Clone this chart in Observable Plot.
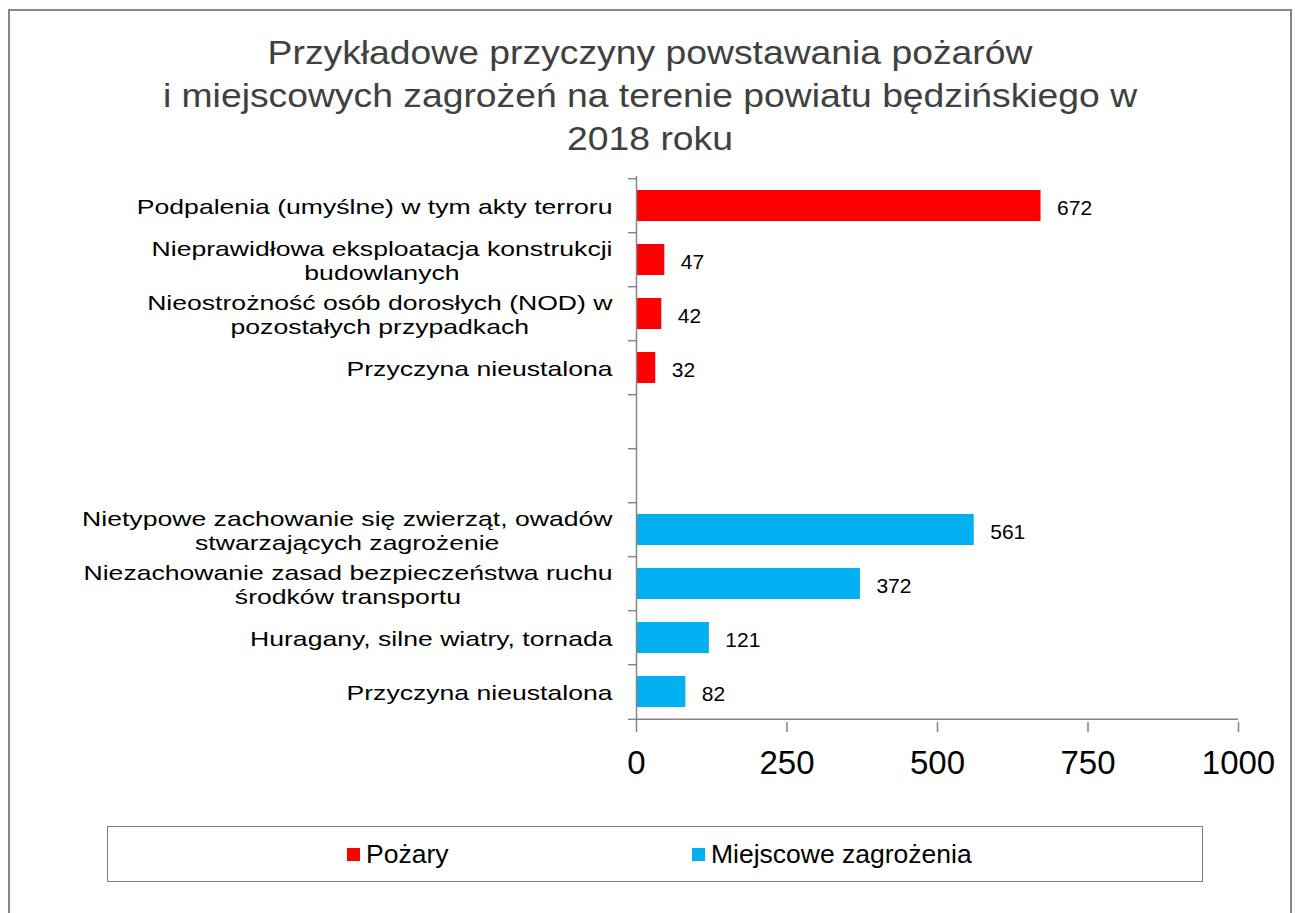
<!DOCTYPE html>
<html><head><meta charset="utf-8">
<script src="https://cdn.jsdelivr.net/npm/d3@7"></script>
<script src="https://cdn.jsdelivr.net/npm/@observablehq/plot@0.6"></script>
<style>
html,body{margin:0;padding:0;background:#fff;}
body{width:1295px;height:913px;position:relative;overflow:hidden;font-family:"Liberation Sans",Arial,sans-serif;}
#frame{position:absolute;left:8px;top:9px;width:1284px;height:1000px;border:2px solid #868686;box-sizing:border-box;}
#title{position:absolute;left:0;top:31px;width:1300px;text-align:center;font-size:33px;line-height:43px;color:#404040;transform:scaleX(1.13);transform-origin:650px 0;white-space:nowrap;}
#chart{position:absolute;left:0;top:160px;}
#legend{position:absolute;left:107px;top:826px;width:1096px;height:56px;border:1px solid #7f7f7f;box-sizing:border-box;}
#legend .lg-swatches{position:absolute;left:239px;top:0;height:54px;margin:0;display:flex;align-items:center;font-size:26.5px;font-family:"Liberation Sans",Arial,sans-serif;color:#000;}
#legend .lg-swatch{width:345px;margin-right:0;display:inline-flex;align-items:center;}
#legend .lg-swatch svg{margin-right:6px;}
</style>
</head><body>
<div id="frame"></div>
<div id="title">Przykładowe przyczyny powstawania pożarów<br>i miejscowych zagrożeń na terenie powiatu będzińskiego w<br>2018 roku</div>
<div id="chart"></div>
<div id="legend"></div>
<script>
const categories = [
  "Podpalenia (umyślne) w tym akty terroru",
  "Nieprawidłowa eksploatacja konstrukcji\nbudowlanych",
  "Nieostrożność osób dorosłych (NOD) w\npozostałych przypadkach",
  "Przyczyna nieustalona",
  "",
  "",
  "Nietypowe zachowanie się zwierząt, owadów\nstwarzających zagrożenie",
  "Niezachowanie zasad bezpieczeństwa ruchu\nśrodków transportu",
  "Huragany, silne wiatry, tornada",
  "Przyczyna nieustalona"
];
const groups = ["Pożary","Pożary","Pożary","Pożary",null,null,
  "Miejscowe zagrożenia","Miejscowe zagrożenia","Miejscowe zagrożenia","Miejscowe zagrożenia"];
const values = [672, 47, 42, 32, null, null, 561, 372, 121, 82];
const seriesNames = ["Pożary", "Miejscowe zagrożenia"];
const seriesColors = ["#FF0000", "#00B0F0"];
const xTicks = [0, 250, 500, 750, 1000];

const keys = categories.map((_, i) => i);
const data = keys.filter(i => values[i] != null).map(i => ({key: i, value: values[i], group: groups[i]}));

const W = 1295, H = 622, mT = 16, mB = 60, mL = 636, mR = 57;
const step = (H - mT - mB) / keys.length;
const grey = "#868686";
const font = '"Liberation Sans", Arial, sans-serif';
const last = keys[keys.length - 1];

const chart = Plot.plot({
  width: W, height: H, marginTop: mT, marginBottom: mB, marginLeft: mL, marginRight: mR,
  style: {fontFamily: font, background: "transparent", overflow: "visible", color: "black"},
  x: {domain: [0, 1000], axis: null},
  y: {domain: keys, paddingInner: 0.42, paddingOuter: 0.21, axis: null},
  color: {domain: seriesNames, range: seriesColors},
  marks: [
    Plot.barX(data, {x: "value", y: "key", fill: "group"}),
    Plot.text(data, {x: "value", y: "key", text: "value", textAnchor: "start", dx: 16, dy: 2, fontSize: 21, fill: "black"}),
    Plot.ruleX([0], {stroke: grey, strokeWidth: 1.5}),
    Plot.ruleY([last], {dy: step / 2, stroke: grey, strokeWidth: 1.5}),
    Plot.axisY(keys, {tickSize: 8, dy: -step / 2, fill: "none", stroke: grey, strokeWidth: 1.5, label: null}),
    Plot.axisY([last], {tickSize: 8, dy: step / 2, fill: "none", stroke: grey, strokeWidth: 1.5, label: null}),
    Plot.axisY(keys, {tickSize: 0, tickPadding: 24, tickFormat: i => categories[i], fontSize: 20, lineHeight: 1.25, fill: "black", label: null}),
    Plot.axisX(xTicks, {tickSize: 10, tickPadding: 18, fontSize: 33, tickFormat: d => String(d), stroke: grey, strokeWidth: 1.5, fill: "black", label: null})
  ]
});
document.getElementById("chart").appendChild(chart);

// centre the lines of multi-line category labels within their block, and widen glyphs
chart.querySelectorAll('g[aria-label="y-axis tick label"] text').forEach(t => {
  const spans = t.querySelectorAll("tspan");
  if (spans.length > 1) {
    const ws = [...spans].map(s => s.getComputedTextLength());
    const m = Math.max(...ws);
    spans.forEach((s, j) => s.setAttribute("x", -(m - ws[j]) / 2));
  }
  let tr = t.getAttribute("transform");
  if (!tr) {
    const x = t.getAttribute("x") || 0, y = t.getAttribute("y") || 0;
    t.removeAttribute("x"); t.removeAttribute("y");
    tr = `translate(${x},${y})`;
  }
  t.setAttribute("transform", tr + " scale(1.33,1)");
});

const legend = Plot.legend({
  color: {domain: seriesNames, range: seriesColors},
  legend: "swatches", swatchSize: 13, className: "lg"
});
document.getElementById("legend").appendChild(legend);
</script>
</body></html>
